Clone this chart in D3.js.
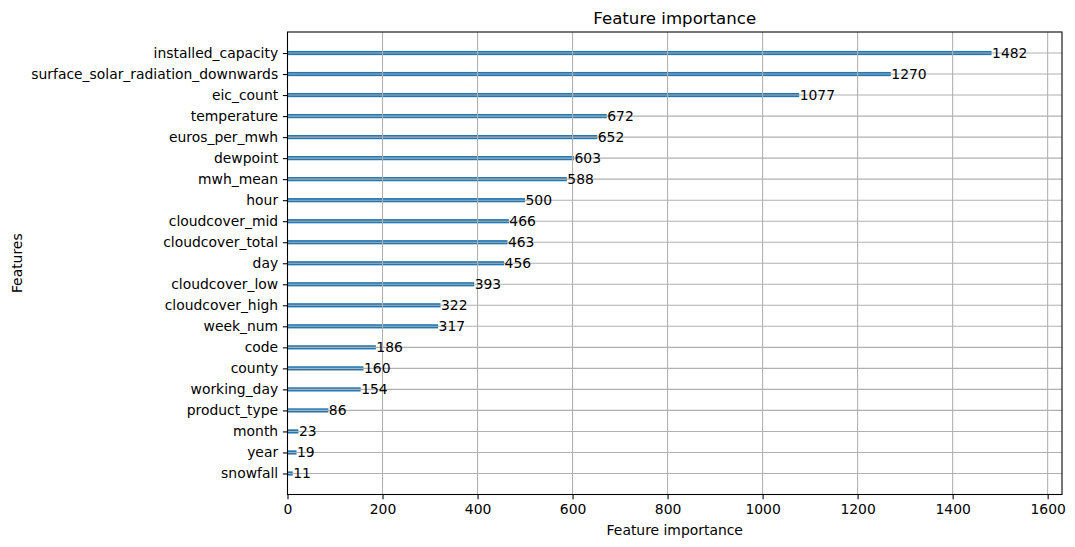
<!DOCTYPE html>
<html>
<head>
<meta charset="utf-8">
<script src="https://cdn.jsdelivr.net/npm/d3@7"></script>
<style>
  body { margin: 0; background: #fff; }
  svg text { font-family: "DejaVu Sans", sans-serif; fill: #000; }
</style>
</head>
<body>
<div id="chart"></div>
<script>
// features listed top to bottom
const features = [
  'installed_capacity', 'surface_solar_radiation_downwards', 'eic_count',
  'temperature', 'euros_per_mwh', 'dewpoint', 'mwh_mean', 'hour',
  'cloudcover_mid', 'cloudcover_total', 'day', 'cloudcover_low',
  'cloudcover_high', 'week_num', 'code', 'county', 'working_day',
  'product_type', 'month', 'year', 'snowfall'
];
const importance = [
  1482, 1270, 1077, 672, 652, 603, 588, 500, 466, 463, 456, 393,
  322, 317, 186, 160, 154, 86, 23, 19, 11
];
const xTicks = [0, 200, 400, 600, 800, 1000, 1200, 1400, 1600];

const width = 1075;
const height = 547;
const margin = { top: 32, right: 13, bottom: 52.5, left: 287.5 };
const innerW = width - margin.left - margin.right;
const innerH = height - margin.top - margin.bottom;
const fontSize = '13.9px';

const svg = d3.select('#chart').append('svg')
  .attr('width', width)
  .attr('height', height);

const g = svg.append('g')
  .attr('transform', `translate(${margin.left},${margin.top})`);

const n = features.length;
const x = d3.scaleLinear()
  .domain([0, d3.max(importance) * 1.1])
  .range([0, innerW]);
// position 0 = last feature (bottom), ylim (-1, n)
const y = d3.scaleLinear().domain([-1, n]).range([innerH, 0]);
const pos = (i) => y(n - 1 - i);
const barH = y(0) - y(0.2);

// bars
g.selectAll('.bar')
  .data(importance)
  .enter()
  .append('rect')
  .attr('class', 'bar')
  .attr('x', x(0))
  .attr('y', (d, i) => pos(i) - barH / 2)
  .attr('width', (d) => x(d) - x(0))
  .attr('height', barH)
  .style('fill', '#1f77b4');

// grid lines (drawn above bars)
g.append('g')
  .selectAll('line')
  .data(xTicks)
  .enter()
  .append('line')
  .attr('x1', (d) => x(d))
  .attr('x2', (d) => x(d))
  .attr('y1', 0)
  .attr('y2', innerH)
  .style('stroke', '#b0b0b0')
  .style('stroke-width', 1.07);

g.append('g')
  .selectAll('line')
  .data(features)
  .enter()
  .append('line')
  .attr('x1', 0)
  .attr('x2', innerW)
  .attr('y1', (d, i) => pos(i))
  .attr('y2', (d, i) => pos(i))
  .style('stroke', '#b0b0b0')
  .style('stroke-width', 1.07);

// value labels
g.selectAll('.val')
  .data(importance)
  .enter()
  .append('text')
  .attr('class', 'val')
  .attr('x', (d) => x(d + 1))
  .attr('y', (d, i) => pos(i))
  .attr('dy', '0.36em')
  .style('font-size', fontSize)
  .text((d) => d);

// axes
const xAxis = g.append('g')
  .attr('transform', `translate(0,${innerH})`)
  .call(d3.axisBottom(x).tickValues(xTicks).tickSize(4.67).tickPadding(4.7).tickFormat(d3.format('d')));

const yAxis = g.append('g')
  .call(d3.axisLeft(d3.scaleOrdinal().domain(features).range(features.map((f, i) => pos(i))))
    .tickSize(4.67).tickPadding(4.7));

[xAxis, yAxis].forEach((ax) => {
  ax.select('.domain').remove();
  ax.selectAll('line').style('stroke', '#000').style('stroke-width', 1.07);
  ax.selectAll('text').style('font-size', fontSize).style('font-family', '"DejaVu Sans", sans-serif').style('fill', '#000');
});

// frame
g.append('rect')
  .attr('x', 0)
  .attr('y', 0)
  .attr('width', innerW)
  .attr('height', innerH)
  .style('fill', 'none')
  .style('stroke', '#000')
  .style('stroke-width', 1.07);

// title & axis labels
svg.append('text')
  .attr('x', margin.left + innerW / 2)
  .attr('y', margin.top - 8)
  .attr('text-anchor', 'middle')
  .style('font-size', '16.6px')
  .text('Feature importance');

svg.append('text')
  .attr('x', margin.left + innerW / 2)
  .attr('y', 535)
  .attr('text-anchor', 'middle')
  .style('font-size', fontSize)
  .text('Feature importance');

svg.append('text')
  .attr('transform', `translate(22,${margin.top + innerH / 2}) rotate(-90)`)
  .attr('text-anchor', 'middle')
  .style('font-size', fontSize)
  .text('Features');
</script>
</body>
</html>
